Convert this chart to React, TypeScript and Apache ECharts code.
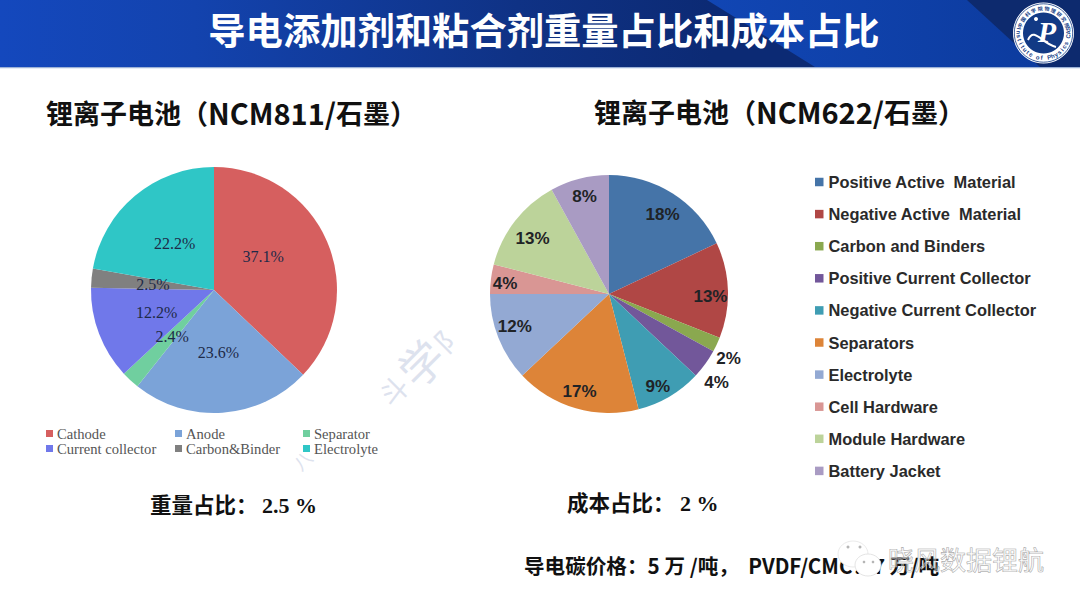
import React, { useEffect, useRef } from "react";
import * as echarts from "echarts";

const titleText = "导电添加剂和粘合剂重量占比和成本占比";
const leftHeadingParts = ["锂离子电池（", "NCM811/", "石墨）"];
const rightHeadingParts = ["锂离子电池（", "NCM622/", "石墨）"];

const weightNames = ["Cathode", "Anode", "Separator", "Current collector", "Carbon&Binder", "Electrolyte"];
const weightValues = [37.1, 23.6, 2.4, 12.2, 2.5, 22.2];
const weightColors = ["#d65f5f", "#7ba3d8", "#70cf9f", "#7078ea", "#808080", "#2fc6c6"];
const weightLabelDx = [-10, 0, 2, 3, 3, 2];
const weightLabelDy = [-8, -2, -1, 0, 1, 3];

const costNames = [
  "Positive Active  Material",
  "Negative Active  Material",
  "Carbon and Binders",
  "Positive Current Collector",
  "Negative Current Collector",
  "Separators",
  "Electrolyte",
  "Cell Hardware",
  "Module Hardware",
  "Battery Jacket",
];
const costValues = [18, 13, 2, 4, 9, 17, 12, 4, 13, 8];
const costColors = ["#4574a8", "#b04745", "#8aa84f", "#72579a", "#3f9db3", "#dd8438", "#93a9d3", "#d99694", "#bcd39a", "#a99bc3"];
const costLabelDx = [20, 39, 63, 57, 17, -12, -36, -42, -27, -9];
const costLabelDy = [-27, 4, 38, 52, 39, 37, 9, -3, -17, -37];

const ringTopChars = "中国科学院物理研究所".split("");
const ringBottomChars = "Institute of Physics CAS".split("");

const cjk = '"Noto Sans CJK SC"';

function ringText(): any[] {
  const cx = 1043.5;
  const cy = 33;
  const out: any[] = [];
  ringTopChars.forEach((ch, i) => {
    const a = (-72 + (i * 144) / (ringTopChars.length - 1)) * (Math.PI / 180);
    out.push({
      type: "text",
      x: cx + 25 * Math.sin(a),
      y: cy - 25 * Math.cos(a),
      rotation: -a,
      z: 12,
      style: { text: ch, fill: "#123a85", font: `bold 5px ${cjk}`, align: "center", verticalAlign: "middle" },
    });
  });
  ringBottomChars.forEach((ch, i) => {
    const b = (180 + 100 - (i * 200) / (ringBottomChars.length - 1)) * (Math.PI / 180);
    out.push({
      type: "text",
      x: cx + 25 * Math.sin(b),
      y: cy - 25 * Math.cos(b),
      rotation: -(b - Math.PI),
      z: 12,
      style: { text: ch, fill: "#123a85", font: "bold 6px 'Liberation Sans'", align: "center", verticalAlign: "middle" },
    });
  });
  return out;
}

function heading(parts: string[], x: number, y: number) {
  return {
    type: "text",
    x,
    y,
    z: 5,
    style: {
      text: `{a|${parts[0]}}{b|${parts[1]}}{a|${parts[2]}}`,
      verticalAlign: "middle",
      fill: "#111",
      rich: {
        a: { fontFamily: "Noto Sans CJK SC", fontWeight: "bold", fontSize: 27, fill: "#111" },
        b: { fontFamily: "Noto Sans CJK SC", fontWeight: "bold", fontSize: 29, fill: "#111" },
      },
    },
  };
}

function buildGraphic(): any[] {
  const t = (text: string, x: number, y: number, font: string, fill = "#111", z = 5, extra: any = {}) => ({
    type: "text",
    x,
    y,
    z,
    style: { text, x: 0, y: 0, font, fill, verticalAlign: "middle", ...extra },
  });
  const wm = (text: string, x: number, y: number, size: number) => ({
    type: "text",
    x,
    y,
    rotation: Math.PI / 4,
    z: 0,
    style: { text, font: `${size}px ${cjk}`, fill: "#dde2ee", align: "center", verticalAlign: "middle" },
  });
  return [
    {
      type: "rect",
      z: 1,
      shape: { x: 0, y: 0, width: 1080, height: 67 },
      style: {
        fill: new echarts.graphic.LinearGradient(0, 0, 1, 0, [
          { offset: 0, color: "#1448bd" },
          { offset: 0.18, color: "#1343ae" },
          { offset: 0.48, color: "#0f3285" },
          { offset: 0.66, color: "#0c2a74" },
          { offset: 1, color: "#0c2a74" },
        ]),
      },
    },
    {
      type: "polygon",
      z: 2,
      shape: { points: [[707, 0], [1080, 0], [1080, 67], [815, 67]] },
      style: {
        fill: new echarts.graphic.LinearGradient(0, 0, 1, 0, [
          { offset: 0, color: "#1146b4" },
          { offset: 1, color: "#0c3a9c" },
        ]),
      },
    },
    {
      type: "polygon",
      z: 3,
      shape: { points: [[967, 0], [1080, 0], [1080, 67], [1040, 67]] },
      style: { fill: "#0d2a6e" },
    },
    { type: "rect", z: 4, shape: { x: 0, y: 67, width: 1080, height: 1.2 }, style: { fill: "#9db2d6" } },
    {
      type: "text",
      x: 544,
      y: 29,
      z: 5,
      style: { text: titleText, font: `bold 37.3px ${cjk}`, fill: "#ffffff", align: "center", verticalAlign: "middle" },
    },
    { type: "circle", z: 10, shape: { cx: 1043.5, cy: 33, r: 30.5 }, style: { fill: "#ffffff" } },
    { type: "circle", z: 11, shape: { cx: 1043.5, cy: 33, r: 29.2 }, style: { fill: "none", stroke: "#123a85", lineWidth: 0.8 } },
    { type: "circle", z: 11, shape: { cx: 1043.5, cy: 33, r: 20.5 }, style: { fill: "#123a85" } },
    ...ringText(),
    {
      type: "text",
      x: 1047,
      y: 31,
      z: 13,
      style: { text: "P", font: "italic bold 30px 'Liberation Serif'", fill: "#ffffff", align: "center", verticalAlign: "middle" },
    },
    {
      type: "bezierCurve",
      z: 13,
      shape: { x1: 1028, y1: 40, x2: 1056, y2: 47, cpx1: 1034, cpy1: 26, cpx2: 1042, cpy2: 44 },
      style: { stroke: "#ffffff", lineWidth: 2, fill: "none" },
    },
    { type: "circle", z: 13, shape: { cx: 1036, cy: 19, r: 2 }, style: { fill: "#ffffff" } },

    heading(leftHeadingParts, 46, 112),
    heading(rightHeadingParts, 594, 111),

    t("重量占比：", 150, 503, `bold 21.5px ${cjk}`),
    t("2.5 %", 262, 505, "bold 22px 'Liberation Serif'"),
    t("成本占比：", 567, 501, `bold 21.5px ${cjk}`),
    t("2 %", 680, 503, "bold 22px 'Liberation Serif'"),
    t("导电碳价格：5 万 /吨，  PVDF/CMC：7 万/吨", 524, 565, `bold 20.6px ${cjk}`),

    wm("斗", 393, 390, 28),
    wm("学", 420, 362, 44),
    wm("阝", 448, 337, 28),
    wm("八", 302, 460, 18),

    { type: "ellipse", z: 20, shape: { cx: 853, cy: 554, rx: 15, ry: 13 }, style: { fill: "#ffffff", stroke: "#e4e4e4", lineWidth: 0.8 } },
    { type: "ellipse", z: 21, shape: { cx: 868, cy: 565, rx: 13, ry: 11 }, style: { fill: "#ffffff", stroke: "#dddddd", lineWidth: 0.8 } },
    { type: "circle", z: 22, shape: { cx: 848, cy: 547, r: 1.5 }, style: { fill: "#b5b5b5" } },
    { type: "circle", z: 22, shape: { cx: 860, cy: 547, r: 1.5 }, style: { fill: "#b5b5b5" } },
    { type: "circle", z: 22, shape: { cx: 864, cy: 562, r: 1.3 }, style: { fill: "#b5b5b5" } },
    { type: "circle", z: 22, shape: { cx: 873, cy: 562, r: 1.3 }, style: { fill: "#b5b5b5" } },
    {
      type: "text",
      x: 888,
      y: 558,
      z: 23,
      style: { text: "晓风数据锂航", font: `26px ${cjk}`, fill: "rgba(255,255,255,0.35)", stroke: "#9a9a9a", lineWidth: 0.6, verticalAlign: "middle" },
    },
  ];
}

const serifLegend = {
  orient: "vertical",
  icon: "rect",
  itemWidth: 7,
  itemHeight: 7,
  itemGap: 0,
  padding: 0,
  selectedMode: false,
  textStyle: { fontFamily: "Liberation Serif", fontSize: 14.6, color: "#555", lineHeight: 15, padding: [0, 0, 0, -1] },
};

export default function App() {
  const ref = useRef<HTMLDivElement>(null);
  useEffect(() => {
    document.body.style.margin = "0";
    const chart = echarts.init(ref.current!, undefined, { renderer: "svg" });
    chart.setOption({
      animation: false,
      backgroundColor: "#ffffff",
      legend: [
        { ...serifLegend, left: 46, top: 426, data: [weightNames[0], weightNames[3]] },
        { ...serifLegend, left: 175, top: 426, data: [weightNames[1], weightNames[4]] },
        { ...serifLegend, left: 303, top: 426, data: [weightNames[2], { name: weightNames[5], itemStyle: { color: weightColors[5] } }] },
        {
          orient: "vertical",
          icon: "rect",
          left: 815,
          top: 173,
          itemWidth: 8.5,
          itemHeight: 8.5,
          itemGap: 14.1,
          padding: 0,
          selectedMode: false,
          data: costNames.map((name, i) => ({ name, itemStyle: { color: costColors[i] } })),
          textStyle: { fontFamily: "Liberation Sans", fontSize: 16.4, fontWeight: "bold", color: "#2a2a2a", lineHeight: 18 },
        },
      ],
      series: [
        {
          type: "pie",
          center: [214, 290],
          radius: 123,
          startAngle: 90,
          avoidLabelOverlap: false,
          silent: true,
          label: {
            show: true,
            position: "inside",
            formatter: "{c}%",
            fontFamily: "Liberation Serif",
            fontSize: 16,
            color: "#1e2a48",
          },
          labelLine: { show: false },
          labelLayout: (p: any) => ({ dx: weightLabelDx[p.dataIndex], dy: weightLabelDy[p.dataIndex] }),
          data: weightNames.map((name, i) => ({ name, value: weightValues[i], itemStyle: { color: weightColors[i] } })),
        },
        {
          type: "pie",
          center: [609, 294],
          radius: 119,
          startAngle: 90,
          avoidLabelOverlap: false,
          silent: true,
          label: {
            show: true,
            position: "inside",
            formatter: "{c}%",
            fontFamily: "Liberation Sans",
            fontWeight: "bold",
            fontSize: 17,
            color: "#1f2326",
          },
          labelLine: { show: false },
          labelLayout: (p: any) => ({ dx: costLabelDx[p.dataIndex], dy: costLabelDy[p.dataIndex] }),
          data: costNames.map((name, i) => ({ name, value: costValues[i], itemStyle: { color: costColors[i] } })),
        },
      ],
      graphic: buildGraphic(),
    });
    return () => chart.dispose();
  }, []);
  return <div ref={ref} style={{ position: "fixed", left: 0, top: 0, width: 1080, height: 607 }} />;
}
